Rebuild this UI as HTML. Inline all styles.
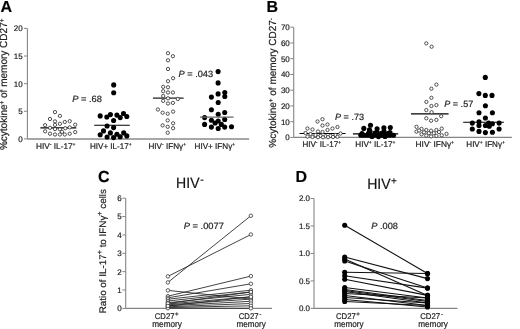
<!DOCTYPE html>
<html><head><meta charset="utf-8"><title>Figure</title>
<style>
html,body{margin:0;padding:0;background:#fff;}
body{width:520px;height:329px;overflow:hidden;}
svg{display:block;font-family:"Liberation Sans", sans-serif;text-rendering:geometricPrecision;will-change:transform;}
text{stroke:#222;stroke-width:0.2px;}
</style></head>
<body>
<svg width="520" height="329" viewBox="0 0 520 329">
<rect width="520" height="329" fill="#fff"/>
<text x="0.6" y="11.8" font-size="16" text-anchor="start" font-weight="bold" fill="#000"  style="">A</text>
<line x1="27.4" y1="28.4" x2="27.4" y2="138.9" stroke="#858585" stroke-width="1.1"/>
<line x1="24.0" y1="28.4" x2="27.4" y2="28.4" stroke="#858585" stroke-width="1"/>
<text x="22.7" y="31.28" font-size="8" text-anchor="end" font-weight="normal" fill="#222"  style="">20</text>
<line x1="24.0" y1="56.02" x2="27.4" y2="56.02" stroke="#858585" stroke-width="1"/>
<text x="22.7" y="58.91" font-size="8" text-anchor="end" font-weight="normal" fill="#222"  style="">15</text>
<line x1="24.0" y1="83.65" x2="27.4" y2="83.65" stroke="#858585" stroke-width="1"/>
<text x="22.7" y="86.53" font-size="8" text-anchor="end" font-weight="normal" fill="#222"  style="">10</text>
<line x1="24.0" y1="111.28" x2="27.4" y2="111.28" stroke="#858585" stroke-width="1"/>
<text x="22.7" y="114.16" font-size="8" text-anchor="end" font-weight="normal" fill="#222"  style="">5</text>
<line x1="24.0" y1="138.9" x2="27.4" y2="138.9" stroke="#858585" stroke-width="1"/>
<text x="22.7" y="141.78" font-size="8" text-anchor="end" font-weight="normal" fill="#222"  style="">0</text>
<line x1="27.4" y1="138.9" x2="249.1" y2="138.9" stroke="#8a8a8a" stroke-width="1.5"/>
<text transform="translate(7.4,84.35) rotate(-90)" x="0" y="0" font-size="10.4" text-anchor="middle" fill="#222" textLength="131.5" lengthAdjust="spacingAndGlyphs">%cytokine<tspan font-size="6.5" dy="-3.5">+</tspan><tspan dy="3.5"> of memory CD27</tspan><tspan font-size="6.5" dy="-3.5">+</tspan></text>
<line x1="40.4" y1="127.9" x2="76.3" y2="127.9" stroke="#000" stroke-width="1.1"/>
<circle cx="55" cy="112.1" r="1.65" fill="#fff" stroke="#333" stroke-width="0.85"/>
<circle cx="59.9" cy="115.9" r="1.65" fill="#fff" stroke="#333" stroke-width="0.85"/>
<circle cx="50" cy="119" r="1.65" fill="#fff" stroke="#333" stroke-width="0.85"/>
<circle cx="55" cy="121.4" r="1.65" fill="#fff" stroke="#333" stroke-width="0.85"/>
<circle cx="64.8" cy="122" r="1.65" fill="#fff" stroke="#333" stroke-width="0.85"/>
<circle cx="69.7" cy="121.2" r="1.65" fill="#fff" stroke="#333" stroke-width="0.85"/>
<circle cx="59.9" cy="123.8" r="1.65" fill="#fff" stroke="#333" stroke-width="0.85"/>
<circle cx="45.1" cy="125.2" r="1.65" fill="#fff" stroke="#333" stroke-width="0.85"/>
<circle cx="55" cy="124.9" r="1.65" fill="#fff" stroke="#333" stroke-width="0.85"/>
<circle cx="75.2" cy="124.7" r="1.65" fill="#fff" stroke="#333" stroke-width="0.85"/>
<circle cx="50" cy="127.8" r="1.65" fill="#fff" stroke="#333" stroke-width="0.85"/>
<circle cx="65.3" cy="128.2" r="1.65" fill="#fff" stroke="#333" stroke-width="0.85"/>
<circle cx="69.7" cy="127.4" r="1.65" fill="#fff" stroke="#333" stroke-width="0.85"/>
<circle cx="55" cy="129.1" r="1.65" fill="#fff" stroke="#333" stroke-width="0.85"/>
<circle cx="59.9" cy="129.3" r="1.65" fill="#fff" stroke="#333" stroke-width="0.85"/>
<circle cx="45.1" cy="131.3" r="1.65" fill="#fff" stroke="#333" stroke-width="0.85"/>
<circle cx="62" cy="131.8" r="1.65" fill="#fff" stroke="#333" stroke-width="0.85"/>
<circle cx="75.2" cy="132.1" r="1.65" fill="#fff" stroke="#333" stroke-width="0.85"/>
<circle cx="50" cy="133.7" r="1.65" fill="#fff" stroke="#333" stroke-width="0.85"/>
<circle cx="55" cy="134.5" r="1.65" fill="#fff" stroke="#333" stroke-width="0.85"/>
<circle cx="59.9" cy="134.5" r="1.65" fill="#fff" stroke="#333" stroke-width="0.85"/>
<circle cx="64.8" cy="134.5" r="1.65" fill="#fff" stroke="#333" stroke-width="0.85"/>
<circle cx="69.7" cy="133.7" r="1.65" fill="#fff" stroke="#333" stroke-width="0.85"/>
<circle cx="113.7" cy="84.9" r="2.55" fill="#000"/>
<circle cx="113.7" cy="92.8" r="2.55" fill="#000"/>
<circle cx="100.2" cy="115.9" r="2.55" fill="#000"/>
<circle cx="106.8" cy="117" r="2.55" fill="#000"/>
<circle cx="110.4" cy="114.6" r="2.55" fill="#000"/>
<circle cx="116.9" cy="115.1" r="2.55" fill="#000"/>
<circle cx="120.2" cy="117.6" r="2.55" fill="#000"/>
<circle cx="123.5" cy="113.5" r="2.55" fill="#000"/>
<circle cx="126.8" cy="116.5" r="2.55" fill="#000"/>
<circle cx="113.6" cy="120.5" r="2.55" fill="#000"/>
<circle cx="107.1" cy="126" r="2.55" fill="#000"/>
<circle cx="113.6" cy="127.6" r="2.55" fill="#000"/>
<circle cx="103.5" cy="130.9" r="2.55" fill="#000"/>
<circle cx="110.4" cy="132.9" r="2.55" fill="#000"/>
<circle cx="116.9" cy="134.3" r="2.55" fill="#000"/>
<circle cx="123.7" cy="132.9" r="2.55" fill="#000"/>
<circle cx="100.2" cy="134.8" r="2.55" fill="#000"/>
<circle cx="107.1" cy="137" r="2.55" fill="#000"/>
<circle cx="113.6" cy="137.6" r="2.55" fill="#000"/>
<circle cx="120.2" cy="136.7" r="2.55" fill="#000"/>
<circle cx="126.8" cy="135.9" r="2.55" fill="#000"/>
<line x1="94.2" y1="125.2" x2="129.8" y2="125.2" stroke="#000" stroke-width="1.1"/>
<line x1="153" y1="98.1" x2="183.6" y2="98.1" stroke="#000" stroke-width="1.1"/>
<circle cx="168" cy="53.2" r="1.65" fill="#fff" stroke="#333" stroke-width="0.85"/>
<circle cx="172.9" cy="56.2" r="1.65" fill="#fff" stroke="#333" stroke-width="0.85"/>
<circle cx="168" cy="60.3" r="1.65" fill="#fff" stroke="#333" stroke-width="0.85"/>
<circle cx="168" cy="69" r="1.65" fill="#fff" stroke="#333" stroke-width="0.85"/>
<circle cx="173.1" cy="78.2" r="1.65" fill="#fff" stroke="#333" stroke-width="0.85"/>
<circle cx="168" cy="81.2" r="1.65" fill="#fff" stroke="#333" stroke-width="0.85"/>
<circle cx="163.2" cy="86.8" r="1.65" fill="#fff" stroke="#333" stroke-width="0.85"/>
<circle cx="168" cy="87.3" r="1.65" fill="#fff" stroke="#333" stroke-width="0.85"/>
<circle cx="163.2" cy="91.2" r="1.65" fill="#fff" stroke="#333" stroke-width="0.85"/>
<circle cx="168" cy="92.5" r="1.65" fill="#fff" stroke="#333" stroke-width="0.85"/>
<circle cx="172.9" cy="92.5" r="1.65" fill="#fff" stroke="#333" stroke-width="0.85"/>
<circle cx="163.2" cy="96" r="1.65" fill="#fff" stroke="#333" stroke-width="0.85"/>
<circle cx="168" cy="98.3" r="1.65" fill="#fff" stroke="#333" stroke-width="0.85"/>
<circle cx="177.8" cy="99" r="1.65" fill="#fff" stroke="#333" stroke-width="0.85"/>
<circle cx="163.2" cy="100.9" r="1.65" fill="#fff" stroke="#333" stroke-width="0.85"/>
<circle cx="168" cy="103.5" r="1.65" fill="#fff" stroke="#333" stroke-width="0.85"/>
<circle cx="172.9" cy="102.9" r="1.65" fill="#fff" stroke="#333" stroke-width="0.85"/>
<circle cx="157.9" cy="109.5" r="1.65" fill="#fff" stroke="#333" stroke-width="0.85"/>
<circle cx="162.6" cy="112.7" r="1.65" fill="#fff" stroke="#333" stroke-width="0.85"/>
<circle cx="167.7" cy="113.7" r="1.65" fill="#fff" stroke="#333" stroke-width="0.85"/>
<circle cx="173.1" cy="111.6" r="1.65" fill="#fff" stroke="#333" stroke-width="0.85"/>
<circle cx="167.7" cy="120.4" r="1.65" fill="#fff" stroke="#333" stroke-width="0.85"/>
<circle cx="173.1" cy="123.3" r="1.65" fill="#fff" stroke="#333" stroke-width="0.85"/>
<circle cx="162.6" cy="125.4" r="1.65" fill="#fff" stroke="#333" stroke-width="0.85"/>
<circle cx="167.7" cy="126.8" r="1.65" fill="#fff" stroke="#333" stroke-width="0.85"/>
<circle cx="173.1" cy="128.2" r="1.65" fill="#fff" stroke="#333" stroke-width="0.85"/>
<circle cx="167.7" cy="132.7" r="1.65" fill="#fff" stroke="#333" stroke-width="0.85"/>
<circle cx="218.1" cy="71.6" r="2.55" fill="#000"/>
<circle cx="218.1" cy="82.9" r="2.55" fill="#000"/>
<circle cx="218.1" cy="93.9" r="2.55" fill="#000"/>
<circle cx="224.8" cy="92.6" r="2.55" fill="#000"/>
<circle cx="224.8" cy="96.5" r="2.55" fill="#000"/>
<circle cx="211.4" cy="97.1" r="2.55" fill="#000"/>
<circle cx="218.2" cy="102.5" r="2.55" fill="#000"/>
<circle cx="211.4" cy="109.8" r="2.55" fill="#000"/>
<circle cx="218.2" cy="114.2" r="2.55" fill="#000"/>
<circle cx="224.7" cy="112.5" r="2.55" fill="#000"/>
<circle cx="204.6" cy="117.6" r="2.55" fill="#000"/>
<circle cx="211.4" cy="120.3" r="2.55" fill="#000"/>
<circle cx="218.2" cy="121" r="2.55" fill="#000"/>
<circle cx="224.7" cy="119.4" r="2.55" fill="#000"/>
<circle cx="215.1" cy="123" r="2.55" fill="#000"/>
<circle cx="204.6" cy="124.4" r="2.55" fill="#000"/>
<circle cx="211.4" cy="127.1" r="2.55" fill="#000"/>
<circle cx="218.2" cy="128.5" r="2.55" fill="#000"/>
<circle cx="224.7" cy="127.1" r="2.55" fill="#000"/>
<circle cx="231.5" cy="126.7" r="2.55" fill="#000"/>
<circle cx="221.3" cy="124.4" r="2.55" fill="#000"/>
<line x1="200" y1="117.1" x2="233.6" y2="117.1" stroke="#666" stroke-width="1.4"/>
<text x="36" y="148.8" font-size="8.2" fill="#222" textLength="39.6" lengthAdjust="spacingAndGlyphs">HIV<tspan font-size="5.08" dy="-2.8">-</tspan><tspan dy="2.8"> IL-17</tspan><tspan font-size="5.08" dy="-2.8">+</tspan></text>
<text x="90" y="148.8" font-size="8.2" fill="#222" textLength="41.6" lengthAdjust="spacingAndGlyphs">HIV+ IL-17<tspan font-size="5.08" dy="-2.8"></tspan><tspan dy="2.8"></tspan><tspan font-size="5.08" dy="-2.8">+</tspan></text>
<text x="148.5" y="148.9" font-size="8.2" fill="#222" textLength="37.6" lengthAdjust="spacingAndGlyphs">HIV<tspan font-size="5.08" dy="-2.8">-</tspan><tspan dy="2.8"> IFN&#947;</tspan><tspan font-size="5.08" dy="-2.8">+</tspan></text>
<text x="194.6" y="148.9" font-size="8.2" fill="#222" textLength="40.6" lengthAdjust="spacingAndGlyphs">HIV+ IFN&#947;<tspan font-size="5.08" dy="-2.8"></tspan><tspan dy="2.8"></tspan><tspan font-size="5.08" dy="-2.8">+</tspan></text>
<text x="72.2" y="101.9" font-size="9" fill="#222" textLength="29.8" lengthAdjust="spacingAndGlyphs"><tspan font-style="italic">P</tspan> = .68</text>
<text x="178.5" y="76.9" font-size="9" fill="#222" textLength="34.6" lengthAdjust="spacingAndGlyphs"><tspan font-style="italic">P</tspan> = .043</text>
<text x="266.5" y="11.8" font-size="16" text-anchor="start" font-weight="bold" fill="#000"  style="">B</text>
<line x1="293.7" y1="27.2" x2="293.7" y2="137.45" stroke="#858585" stroke-width="1.1"/>
<line x1="290.3" y1="27.2" x2="293.7" y2="27.2" stroke="#858585" stroke-width="1"/>
<text x="289.8" y="30.08" font-size="8" text-anchor="end" font-weight="normal" fill="#222"  style="">70</text>
<line x1="290.3" y1="42.95" x2="293.7" y2="42.95" stroke="#858585" stroke-width="1"/>
<text x="289.8" y="45.83" font-size="8" text-anchor="end" font-weight="normal" fill="#222"  style="">60</text>
<line x1="290.3" y1="58.7" x2="293.7" y2="58.7" stroke="#858585" stroke-width="1"/>
<text x="289.8" y="61.58" font-size="8" text-anchor="end" font-weight="normal" fill="#222"  style="">50</text>
<line x1="290.3" y1="74.45" x2="293.7" y2="74.45" stroke="#858585" stroke-width="1"/>
<text x="289.8" y="77.33" font-size="8" text-anchor="end" font-weight="normal" fill="#222"  style="">40</text>
<line x1="290.3" y1="90.2" x2="293.7" y2="90.2" stroke="#858585" stroke-width="1"/>
<text x="289.8" y="93.08" font-size="8" text-anchor="end" font-weight="normal" fill="#222"  style="">30</text>
<line x1="290.3" y1="105.95" x2="293.7" y2="105.95" stroke="#858585" stroke-width="1"/>
<text x="289.8" y="108.83" font-size="8" text-anchor="end" font-weight="normal" fill="#222"  style="">20</text>
<line x1="290.3" y1="121.7" x2="293.7" y2="121.7" stroke="#858585" stroke-width="1"/>
<text x="289.8" y="124.58" font-size="8" text-anchor="end" font-weight="normal" fill="#222"  style="">10</text>
<line x1="290.3" y1="137.45" x2="293.7" y2="137.45" stroke="#858585" stroke-width="1"/>
<text x="289.8" y="140.33" font-size="8" text-anchor="end" font-weight="normal" fill="#222"  style="">0</text>
<line x1="293.7" y1="137.45" x2="511.9" y2="137.45" stroke="#858585" stroke-width="1.3"/>
<text transform="translate(276.0,82.9) rotate(-90)" x="0" y="0" font-size="10.2" text-anchor="middle" fill="#222" textLength="129.5" lengthAdjust="spacingAndGlyphs">%cytokine<tspan font-size="6.5" dy="-3.5">+</tspan><tspan dy="3.5"> of memory CD27</tspan><tspan font-size="6.5" dy="-3.5">-</tspan></text>
<line x1="299.5" y1="133.5" x2="345.5" y2="133.5" stroke="#000" stroke-width="1.1"/>
<circle cx="317.5" cy="121.5" r="1.65" fill="#fff" stroke="#333" stroke-width="0.85"/>
<circle cx="322.5" cy="119.2" r="1.65" fill="#fff" stroke="#333" stroke-width="0.85"/>
<circle cx="322.5" cy="125.5" r="1.65" fill="#fff" stroke="#333" stroke-width="0.85"/>
<circle cx="327.5" cy="124.5" r="1.65" fill="#fff" stroke="#333" stroke-width="0.85"/>
<circle cx="307.5" cy="128.5" r="1.65" fill="#fff" stroke="#333" stroke-width="0.85"/>
<circle cx="312.5" cy="129.5" r="1.65" fill="#fff" stroke="#333" stroke-width="0.85"/>
<circle cx="332.5" cy="128.5" r="1.65" fill="#fff" stroke="#333" stroke-width="0.85"/>
<circle cx="337.5" cy="127" r="1.65" fill="#fff" stroke="#333" stroke-width="0.85"/>
<circle cx="327.5" cy="130" r="1.65" fill="#fff" stroke="#333" stroke-width="0.85"/>
<circle cx="318" cy="131.5" r="1.65" fill="#fff" stroke="#333" stroke-width="0.85"/>
<circle cx="322.5" cy="132" r="1.65" fill="#fff" stroke="#333" stroke-width="0.85"/>
<circle cx="305.5" cy="133" r="1.65" fill="#fff" stroke="#333" stroke-width="0.85"/>
<circle cx="310.5" cy="134" r="1.65" fill="#fff" stroke="#333" stroke-width="0.85"/>
<circle cx="315.5" cy="135" r="1.65" fill="#fff" stroke="#333" stroke-width="0.85"/>
<circle cx="320.5" cy="135.8" r="1.65" fill="#fff" stroke="#333" stroke-width="0.85"/>
<circle cx="325.5" cy="136.2" r="1.65" fill="#fff" stroke="#333" stroke-width="0.85"/>
<circle cx="330.5" cy="135.8" r="1.65" fill="#fff" stroke="#333" stroke-width="0.85"/>
<circle cx="335.5" cy="135" r="1.65" fill="#fff" stroke="#333" stroke-width="0.85"/>
<circle cx="340.5" cy="133.5" r="1.65" fill="#fff" stroke="#333" stroke-width="0.85"/>
<circle cx="307.5" cy="136.6" r="1.65" fill="#fff" stroke="#333" stroke-width="0.85"/>
<circle cx="312.5" cy="137" r="1.65" fill="#fff" stroke="#333" stroke-width="0.85"/>
<circle cx="318" cy="137.2" r="1.65" fill="#fff" stroke="#333" stroke-width="0.85"/>
<circle cx="323" cy="137.3" r="1.65" fill="#fff" stroke="#333" stroke-width="0.85"/>
<circle cx="328" cy="137.2" r="1.65" fill="#fff" stroke="#333" stroke-width="0.85"/>
<circle cx="333" cy="137" r="1.65" fill="#fff" stroke="#333" stroke-width="0.85"/>
<circle cx="337.5" cy="136.8" r="1.65" fill="#fff" stroke="#333" stroke-width="0.85"/>
<line x1="352.9" y1="133.9" x2="398.2" y2="133.9" stroke="#000" stroke-width="1.1"/>
<circle cx="363.8" cy="128.4" r="2.55" fill="#000"/>
<circle cx="370.5" cy="125.3" r="2.55" fill="#000"/>
<circle cx="369.4" cy="129.8" r="2.55" fill="#000"/>
<circle cx="377.1" cy="128.7" r="2.55" fill="#000"/>
<circle cx="383.9" cy="127.9" r="2.55" fill="#000"/>
<circle cx="390.3" cy="127.5" r="2.55" fill="#000"/>
<circle cx="360.8" cy="135.2" r="2.55" fill="#000"/>
<circle cx="364" cy="135.2" r="2.55" fill="#000"/>
<circle cx="367.2" cy="135.2" r="2.55" fill="#000"/>
<circle cx="370.5" cy="135.2" r="2.55" fill="#000"/>
<circle cx="373.7" cy="135.2" r="2.55" fill="#000"/>
<circle cx="377" cy="135.2" r="2.55" fill="#000"/>
<circle cx="380.2" cy="135.2" r="2.55" fill="#000"/>
<circle cx="383.4" cy="135.2" r="2.55" fill="#000"/>
<circle cx="386.6" cy="135.2" r="2.55" fill="#000"/>
<circle cx="389.9" cy="135.2" r="2.55" fill="#000"/>
<circle cx="393.5" cy="135.2" r="2.55" fill="#000"/>
<circle cx="362" cy="133.5" r="2.55" fill="#000"/>
<circle cx="368.5" cy="133.2" r="2.55" fill="#000"/>
<circle cx="375" cy="133" r="2.55" fill="#000"/>
<circle cx="381.5" cy="133.3" r="2.55" fill="#000"/>
<circle cx="388" cy="133.5" r="2.55" fill="#000"/>
<circle cx="372" cy="136.5" r="2.55" fill="#000"/>
<circle cx="378.5" cy="136.6" r="2.55" fill="#000"/>
<circle cx="385" cy="136.4" r="2.55" fill="#000"/>
<circle cx="370" cy="131.2" r="2.55" fill="#000"/>
<circle cx="377" cy="132.2" r="2.55" fill="#000"/>
<circle cx="384" cy="131.5" r="2.55" fill="#000"/>
<circle cx="390" cy="132.5" r="2.55" fill="#000"/>
<line x1="411" y1="113.9" x2="448.6" y2="113.9" stroke="#000" stroke-width="1.1"/>
<circle cx="426.3" cy="43.4" r="1.65" fill="#fff" stroke="#333" stroke-width="0.85"/>
<circle cx="431.6" cy="46.7" r="1.65" fill="#fff" stroke="#333" stroke-width="0.85"/>
<circle cx="436.4" cy="84.6" r="1.65" fill="#fff" stroke="#333" stroke-width="0.85"/>
<circle cx="431.4" cy="88.7" r="1.65" fill="#fff" stroke="#333" stroke-width="0.85"/>
<circle cx="431.4" cy="97.8" r="1.65" fill="#fff" stroke="#333" stroke-width="0.85"/>
<circle cx="426.4" cy="101.9" r="1.65" fill="#fff" stroke="#333" stroke-width="0.85"/>
<circle cx="431.4" cy="106" r="1.65" fill="#fff" stroke="#333" stroke-width="0.85"/>
<circle cx="436.4" cy="105.1" r="1.65" fill="#fff" stroke="#333" stroke-width="0.85"/>
<circle cx="426.3" cy="110.1" r="1.65" fill="#fff" stroke="#333" stroke-width="0.85"/>
<circle cx="431.6" cy="112.2" r="1.65" fill="#fff" stroke="#333" stroke-width="0.85"/>
<circle cx="441.2" cy="116.2" r="1.65" fill="#fff" stroke="#333" stroke-width="0.85"/>
<circle cx="426.3" cy="118.3" r="1.65" fill="#fff" stroke="#333" stroke-width="0.85"/>
<circle cx="431.1" cy="120.7" r="1.65" fill="#fff" stroke="#333" stroke-width="0.85"/>
<circle cx="436.4" cy="119.9" r="1.65" fill="#fff" stroke="#333" stroke-width="0.85"/>
<circle cx="416.5" cy="126.8" r="1.65" fill="#fff" stroke="#333" stroke-width="0.85"/>
<circle cx="421.5" cy="128.9" r="1.65" fill="#fff" stroke="#333" stroke-width="0.85"/>
<circle cx="426.3" cy="130" r="1.65" fill="#fff" stroke="#333" stroke-width="0.85"/>
<circle cx="431.1" cy="130.7" r="1.65" fill="#fff" stroke="#333" stroke-width="0.85"/>
<circle cx="436.4" cy="130" r="1.65" fill="#fff" stroke="#333" stroke-width="0.85"/>
<circle cx="441.7" cy="128.6" r="1.65" fill="#fff" stroke="#333" stroke-width="0.85"/>
<circle cx="416.5" cy="131.6" r="1.65" fill="#fff" stroke="#333" stroke-width="0.85"/>
<circle cx="421.5" cy="134.3" r="1.65" fill="#fff" stroke="#333" stroke-width="0.85"/>
<circle cx="426.3" cy="135.6" r="1.65" fill="#fff" stroke="#333" stroke-width="0.85"/>
<circle cx="431.1" cy="136.4" r="1.65" fill="#fff" stroke="#333" stroke-width="0.85"/>
<circle cx="436.4" cy="135.9" r="1.65" fill="#fff" stroke="#333" stroke-width="0.85"/>
<circle cx="441.7" cy="135.3" r="1.65" fill="#fff" stroke="#333" stroke-width="0.85"/>
<circle cx="446.5" cy="133.9" r="1.65" fill="#fff" stroke="#333" stroke-width="0.85"/>
<circle cx="419" cy="130.5" r="1.65" fill="#fff" stroke="#333" stroke-width="0.85"/>
<circle cx="424" cy="132.3" r="1.65" fill="#fff" stroke="#333" stroke-width="0.85"/>
<circle cx="428.8" cy="133.2" r="1.65" fill="#fff" stroke="#333" stroke-width="0.85"/>
<circle cx="433.8" cy="133.2" r="1.65" fill="#fff" stroke="#333" stroke-width="0.85"/>
<circle cx="439" cy="132" r="1.65" fill="#fff" stroke="#333" stroke-width="0.85"/>
<circle cx="485.3" cy="77.4" r="2.55" fill="#000"/>
<circle cx="478.9" cy="93.6" r="2.55" fill="#000"/>
<circle cx="485.3" cy="95.4" r="2.55" fill="#000"/>
<circle cx="492" cy="95.4" r="2.55" fill="#000"/>
<circle cx="485.4" cy="105.8" r="2.55" fill="#000"/>
<circle cx="479" cy="112.8" r="2.55" fill="#000"/>
<circle cx="492.4" cy="112.8" r="2.55" fill="#000"/>
<circle cx="485.4" cy="118" r="2.55" fill="#000"/>
<circle cx="472.3" cy="123.1" r="2.55" fill="#000"/>
<circle cx="479" cy="121.9" r="2.55" fill="#000"/>
<circle cx="479" cy="125.5" r="2.55" fill="#000"/>
<circle cx="485.4" cy="125.5" r="2.55" fill="#000"/>
<circle cx="488.7" cy="123.1" r="2.55" fill="#000"/>
<circle cx="489.3" cy="126.2" r="2.55" fill="#000"/>
<circle cx="492.4" cy="123.7" r="2.55" fill="#000"/>
<circle cx="499.1" cy="123.1" r="2.55" fill="#000"/>
<circle cx="472.3" cy="129" r="2.55" fill="#000"/>
<circle cx="479" cy="131.4" r="2.55" fill="#000"/>
<circle cx="485.4" cy="132.6" r="2.55" fill="#000"/>
<circle cx="492.4" cy="132.2" r="2.55" fill="#000"/>
<circle cx="499.1" cy="129" r="2.55" fill="#000"/>
<line x1="463.2" y1="122.3" x2="503.9" y2="122.3" stroke="#000" stroke-width="1.1"/>
<text x="302.4" y="147.2" font-size="8.2" fill="#222" textLength="38.7" lengthAdjust="spacingAndGlyphs">HIV<tspan font-size="5.08" dy="-2.8">-</tspan><tspan dy="2.8"> IL-17</tspan><tspan font-size="5.08" dy="-2.8">+</tspan></text>
<text x="355.3" y="147.2" font-size="8.2" fill="#222" textLength="40.2" lengthAdjust="spacingAndGlyphs">HIV<tspan font-size="5.08" dy="-2.8">+</tspan><tspan dy="2.8"> IL-17</tspan><tspan font-size="5.08" dy="-2.8">+</tspan></text>
<text x="415.6" y="147.2" font-size="8.2" fill="#222" textLength="38.5" lengthAdjust="spacingAndGlyphs">HIV<tspan font-size="5.08" dy="-2.8">-</tspan><tspan dy="2.8"> IFN&#947;</tspan><tspan font-size="5.08" dy="-2.8">+</tspan></text>
<text x="466.3" y="147.2" font-size="8.2" fill="#222" textLength="38.6" lengthAdjust="spacingAndGlyphs">HIV<tspan font-size="5.08" dy="-2.8">+</tspan><tspan dy="2.8"> IFN&#947;</tspan><tspan font-size="5.08" dy="-2.8">+</tspan></text>
<text x="335" y="119.6" font-size="9" fill="#222" textLength="29.1" lengthAdjust="spacingAndGlyphs"><tspan font-style="italic">P</tspan> = .73</text>
<text x="444.3" y="106.7" font-size="9" fill="#222" textLength="28.9" lengthAdjust="spacingAndGlyphs"><tspan font-style="italic">P</tspan> = .57</text>
<text x="97.9" y="181.8" font-size="16" text-anchor="start" font-weight="bold" fill="#000"  style="">C</text>
<line x1="125.7" y1="198.2" x2="125.7" y2="308.4" stroke="#858585" stroke-width="1.1"/>
<line x1="122.3" y1="198.2" x2="125.7" y2="198.2" stroke="#858585" stroke-width="1"/>
<text x="121.6" y="201.08" font-size="8" text-anchor="end" font-weight="normal" fill="#222"  style="">6</text>
<line x1="122.3" y1="216.57" x2="125.7" y2="216.57" stroke="#858585" stroke-width="1"/>
<text x="121.6" y="219.45" font-size="8" text-anchor="end" font-weight="normal" fill="#222"  style="">5</text>
<line x1="122.3" y1="234.93" x2="125.7" y2="234.93" stroke="#858585" stroke-width="1"/>
<text x="121.6" y="237.81" font-size="8" text-anchor="end" font-weight="normal" fill="#222"  style="">4</text>
<line x1="122.3" y1="253.3" x2="125.7" y2="253.3" stroke="#858585" stroke-width="1"/>
<text x="121.6" y="256.18" font-size="8" text-anchor="end" font-weight="normal" fill="#222"  style="">3</text>
<line x1="122.3" y1="271.67" x2="125.7" y2="271.67" stroke="#858585" stroke-width="1"/>
<text x="121.6" y="274.55" font-size="8" text-anchor="end" font-weight="normal" fill="#222"  style="">2</text>
<line x1="122.3" y1="290.03" x2="125.7" y2="290.03" stroke="#858585" stroke-width="1"/>
<text x="121.6" y="292.91" font-size="8" text-anchor="end" font-weight="normal" fill="#222"  style="">1</text>
<line x1="122.3" y1="308.4" x2="125.7" y2="308.4" stroke="#858585" stroke-width="1"/>
<text x="121.6" y="311.28" font-size="8" text-anchor="end" font-weight="normal" fill="#222"  style="">0</text>
<line x1="125.7" y1="308.4" x2="272" y2="308.4" stroke="#858585" stroke-width="1.3"/>
<text transform="translate(105.8,251.2) rotate(-90)" x="0" y="0" font-size="9.6" text-anchor="middle" fill="#222" textLength="124.3" lengthAdjust="spacingAndGlyphs">Ratio of IL-17<tspan font-size="7" dy="-3.4">+</tspan><tspan dy="3.4"> to IFN&#947;</tspan><tspan font-size="7" dy="-3.4">+</tspan><tspan dy="3.4"> cells</tspan></text>
<text x="176.1" y="188.3" font-size="14.8" fill="#111" textLength="23.4" lengthAdjust="spacingAndGlyphs">HIV</text>
<text x="200.2" y="182.6" font-size="10.5" fill="#111">-</text>
<text x="183.8" y="228.5" font-size="9" fill="#222" textLength="40" lengthAdjust="spacingAndGlyphs"><tspan font-style="italic">P</tspan> = .0077</text>
<line x1="167.9" y1="276.4" x2="250.9" y2="234.5" stroke="#222" stroke-width="0.85"/>
<line x1="167.9" y1="282.4" x2="250.9" y2="215.75" stroke="#222" stroke-width="0.85"/>
<line x1="167.9" y1="290.4" x2="250.9" y2="299.1" stroke="#222" stroke-width="0.85"/>
<line x1="167.9" y1="296.2" x2="250.9" y2="276.1" stroke="#222" stroke-width="0.85"/>
<line x1="167.9" y1="297.8" x2="250.9" y2="283.8" stroke="#222" stroke-width="0.85"/>
<line x1="167.9" y1="299.2" x2="250.9" y2="290.2" stroke="#222" stroke-width="0.85"/>
<line x1="167.9" y1="301" x2="250.9" y2="292" stroke="#222" stroke-width="0.85"/>
<line x1="167.9" y1="302.7" x2="250.9" y2="294.3" stroke="#222" stroke-width="0.85"/>
<line x1="167.9" y1="304" x2="250.9" y2="296.8" stroke="#222" stroke-width="0.85"/>
<line x1="167.9" y1="304.8" x2="250.9" y2="299.1" stroke="#222" stroke-width="0.85"/>
<line x1="167.9" y1="305.8" x2="250.9" y2="301.3" stroke="#222" stroke-width="0.85"/>
<line x1="167.9" y1="306.8" x2="250.9" y2="303.5" stroke="#222" stroke-width="0.85"/>
<line x1="167.9" y1="307.5" x2="250.9" y2="305.8" stroke="#222" stroke-width="0.85"/>
<line x1="167.9" y1="308.2" x2="250.9" y2="308.3" stroke="#222" stroke-width="0.85"/>
<line x1="167.9" y1="303.5" x2="250.9" y2="292" stroke="#222" stroke-width="0.85"/>
<line x1="167.9" y1="306" x2="250.9" y2="296.8" stroke="#222" stroke-width="0.85"/>
<circle cx="167.9" cy="276.4" r="1.75" fill="#fff" stroke="#333" stroke-width="0.8"/>
<circle cx="250.9" cy="234.5" r="1.75" fill="#fff" stroke="#333" stroke-width="0.8"/>
<circle cx="167.9" cy="282.4" r="1.75" fill="#fff" stroke="#333" stroke-width="0.8"/>
<circle cx="250.9" cy="215.75" r="1.75" fill="#fff" stroke="#333" stroke-width="0.8"/>
<circle cx="167.9" cy="290.4" r="1.75" fill="#fff" stroke="#333" stroke-width="0.8"/>
<circle cx="250.9" cy="299.1" r="1.75" fill="#fff" stroke="#333" stroke-width="0.8"/>
<circle cx="167.9" cy="296.2" r="1.75" fill="#fff" stroke="#333" stroke-width="0.8"/>
<circle cx="250.9" cy="276.1" r="1.75" fill="#fff" stroke="#333" stroke-width="0.8"/>
<circle cx="167.9" cy="297.8" r="1.75" fill="#fff" stroke="#333" stroke-width="0.8"/>
<circle cx="250.9" cy="283.8" r="1.75" fill="#fff" stroke="#333" stroke-width="0.8"/>
<circle cx="167.9" cy="299.2" r="1.75" fill="#fff" stroke="#333" stroke-width="0.8"/>
<circle cx="250.9" cy="290.2" r="1.75" fill="#fff" stroke="#333" stroke-width="0.8"/>
<circle cx="167.9" cy="301" r="1.75" fill="#fff" stroke="#333" stroke-width="0.8"/>
<circle cx="250.9" cy="292" r="1.75" fill="#fff" stroke="#333" stroke-width="0.8"/>
<circle cx="167.9" cy="302.7" r="1.75" fill="#fff" stroke="#333" stroke-width="0.8"/>
<circle cx="250.9" cy="294.3" r="1.75" fill="#fff" stroke="#333" stroke-width="0.8"/>
<circle cx="167.9" cy="304" r="1.75" fill="#fff" stroke="#333" stroke-width="0.8"/>
<circle cx="250.9" cy="296.8" r="1.75" fill="#fff" stroke="#333" stroke-width="0.8"/>
<circle cx="167.9" cy="304.8" r="1.75" fill="#fff" stroke="#333" stroke-width="0.8"/>
<circle cx="250.9" cy="299.1" r="1.75" fill="#fff" stroke="#333" stroke-width="0.8"/>
<circle cx="167.9" cy="305.8" r="1.75" fill="#fff" stroke="#333" stroke-width="0.8"/>
<circle cx="250.9" cy="301.3" r="1.75" fill="#fff" stroke="#333" stroke-width="0.8"/>
<circle cx="167.9" cy="306.8" r="1.75" fill="#fff" stroke="#333" stroke-width="0.8"/>
<circle cx="250.9" cy="303.5" r="1.75" fill="#fff" stroke="#333" stroke-width="0.8"/>
<circle cx="167.9" cy="307.5" r="1.75" fill="#fff" stroke="#333" stroke-width="0.8"/>
<circle cx="250.9" cy="305.8" r="1.75" fill="#fff" stroke="#333" stroke-width="0.8"/>
<circle cx="167.9" cy="308.2" r="1.75" fill="#fff" stroke="#333" stroke-width="0.8"/>
<circle cx="250.9" cy="308.3" r="1.75" fill="#fff" stroke="#333" stroke-width="0.8"/>
<circle cx="167.9" cy="303.5" r="1.75" fill="#fff" stroke="#333" stroke-width="0.8"/>
<circle cx="250.9" cy="292" r="1.75" fill="#fff" stroke="#333" stroke-width="0.8"/>
<circle cx="167.9" cy="306" r="1.75" fill="#fff" stroke="#333" stroke-width="0.8"/>
<circle cx="250.9" cy="296.8" r="1.75" fill="#fff" stroke="#333" stroke-width="0.8"/>
<text x="154.8" y="318.8" font-size="8.3" text-anchor="start" font-weight="normal" fill="#222" textLength="19.7" lengthAdjust="spacingAndGlyphs" style="">CD27</text>
<text x="175.0" y="316.2" font-size="6.2" text-anchor="start" font-weight="normal" fill="#222"  style="">+</text>
<text x="152.3" y="326.7" font-size="8.9" text-anchor="start" font-weight="normal" fill="#222" textLength="29.6" lengthAdjust="spacingAndGlyphs" style="">memory</text>
<text x="238.8" y="318.8" font-size="8.3" text-anchor="start" font-weight="normal" fill="#222" textLength="19.7" lengthAdjust="spacingAndGlyphs" style="">CD27</text>
<text x="259.2" y="315.8" font-size="6.5" text-anchor="start" font-weight="normal" fill="#222"  style="">-</text>
<text x="236.6" y="326.7" font-size="8.9" text-anchor="start" font-weight="normal" fill="#222" textLength="29.2" lengthAdjust="spacingAndGlyphs" style="">memory</text>
<text x="295.5" y="181.8" font-size="16" text-anchor="start" font-weight="bold" fill="#000"  style="">D</text>
<line x1="314.0" y1="198.5" x2="314.0" y2="308.4" stroke="#858585" stroke-width="1.1"/>
<line x1="310.6" y1="198.5" x2="314.0" y2="198.5" stroke="#858585" stroke-width="1"/>
<text x="310.0" y="201.38" font-size="8" text-anchor="end" font-weight="normal" fill="#222"  style="">2.0</text>
<line x1="310.6" y1="225.97" x2="314.0" y2="225.97" stroke="#858585" stroke-width="1"/>
<text x="310.0" y="228.85" font-size="8" text-anchor="end" font-weight="normal" fill="#222"  style="">1.5</text>
<line x1="310.6" y1="253.45" x2="314.0" y2="253.45" stroke="#858585" stroke-width="1"/>
<text x="310.0" y="256.33" font-size="8" text-anchor="end" font-weight="normal" fill="#222"  style="">1.0</text>
<line x1="310.6" y1="280.92" x2="314.0" y2="280.92" stroke="#858585" stroke-width="1"/>
<text x="310.0" y="283.8" font-size="8" text-anchor="end" font-weight="normal" fill="#222"  style="">0.5</text>
<line x1="310.6" y1="308.4" x2="314.0" y2="308.4" stroke="#858585" stroke-width="1"/>
<text x="310.0" y="311.28" font-size="8" text-anchor="end" font-weight="normal" fill="#222"  style="">0.0</text>
<line x1="314.0" y1="308.4" x2="457.4" y2="308.4" stroke="#858585" stroke-width="1.3"/>
<text x="367.2" y="188.5" font-size="14.8" fill="#111" textLength="23.5" lengthAdjust="spacingAndGlyphs">HIV</text>
<text x="390.9" y="184.2" font-size="10" fill="#111">+</text>
<text x="371.3" y="229" font-size="9" fill="#222" textLength="26.7" lengthAdjust="spacingAndGlyphs"><tspan font-style="italic">P</tspan> .008</text>
<line x1="344.7" y1="225.2" x2="427.5" y2="273.5" stroke="#111" stroke-width="1.1"/>
<line x1="344.7" y1="257" x2="427.5" y2="278.6" stroke="#111" stroke-width="1.1"/>
<line x1="344.7" y1="259" x2="427.5" y2="295.4" stroke="#111" stroke-width="1.1"/>
<line x1="344.7" y1="261" x2="427.5" y2="288.1" stroke="#111" stroke-width="1.1"/>
<line x1="344.7" y1="272.3" x2="427.5" y2="273.5" stroke="#111" stroke-width="1.1"/>
<line x1="344.7" y1="275.8" x2="427.5" y2="288.1" stroke="#111" stroke-width="1.1"/>
<line x1="344.7" y1="279.3" x2="427.5" y2="295.4" stroke="#111" stroke-width="1.1"/>
<line x1="344.7" y1="287.5" x2="427.5" y2="298" stroke="#111" stroke-width="1.1"/>
<line x1="344.7" y1="289.5" x2="427.5" y2="300.5" stroke="#111" stroke-width="1.1"/>
<line x1="344.7" y1="291.5" x2="427.5" y2="303" stroke="#111" stroke-width="1.1"/>
<line x1="344.7" y1="293.5" x2="427.5" y2="298" stroke="#111" stroke-width="1.1"/>
<line x1="344.7" y1="295.5" x2="427.5" y2="305.5" stroke="#111" stroke-width="1.1"/>
<line x1="344.7" y1="297.5" x2="427.5" y2="303" stroke="#111" stroke-width="1.1"/>
<line x1="344.7" y1="299.5" x2="427.5" y2="307" stroke="#111" stroke-width="1.1"/>
<line x1="344.7" y1="301.5" x2="427.5" y2="305.5" stroke="#111" stroke-width="1.1"/>
<line x1="344.7" y1="290.5" x2="427.5" y2="301.5" stroke="#111" stroke-width="1.1"/>
<circle cx="344.7" cy="225.2" r="2.55" fill="#000"/>
<circle cx="427.5" cy="273.5" r="2.55" fill="#000"/>
<circle cx="344.7" cy="257" r="2.55" fill="#000"/>
<circle cx="427.5" cy="278.6" r="2.55" fill="#000"/>
<circle cx="344.7" cy="259" r="2.55" fill="#000"/>
<circle cx="427.5" cy="295.4" r="2.55" fill="#000"/>
<circle cx="344.7" cy="261" r="2.55" fill="#000"/>
<circle cx="427.5" cy="288.1" r="2.55" fill="#000"/>
<circle cx="344.7" cy="272.3" r="2.55" fill="#000"/>
<circle cx="427.5" cy="273.5" r="2.55" fill="#000"/>
<circle cx="344.7" cy="275.8" r="2.55" fill="#000"/>
<circle cx="427.5" cy="288.1" r="2.55" fill="#000"/>
<circle cx="344.7" cy="279.3" r="2.55" fill="#000"/>
<circle cx="427.5" cy="295.4" r="2.55" fill="#000"/>
<circle cx="344.7" cy="287.5" r="2.55" fill="#000"/>
<circle cx="427.5" cy="298" r="2.55" fill="#000"/>
<circle cx="344.7" cy="289.5" r="2.55" fill="#000"/>
<circle cx="427.5" cy="300.5" r="2.55" fill="#000"/>
<circle cx="344.7" cy="291.5" r="2.55" fill="#000"/>
<circle cx="427.5" cy="303" r="2.55" fill="#000"/>
<circle cx="344.7" cy="293.5" r="2.55" fill="#000"/>
<circle cx="427.5" cy="298" r="2.55" fill="#000"/>
<circle cx="344.7" cy="295.5" r="2.55" fill="#000"/>
<circle cx="427.5" cy="305.5" r="2.55" fill="#000"/>
<circle cx="344.7" cy="297.5" r="2.55" fill="#000"/>
<circle cx="427.5" cy="303" r="2.55" fill="#000"/>
<circle cx="344.7" cy="299.5" r="2.55" fill="#000"/>
<circle cx="427.5" cy="307" r="2.55" fill="#000"/>
<circle cx="344.7" cy="301.5" r="2.55" fill="#000"/>
<circle cx="427.5" cy="305.5" r="2.55" fill="#000"/>
<circle cx="344.7" cy="290.5" r="2.55" fill="#000"/>
<circle cx="427.5" cy="301.5" r="2.55" fill="#000"/>
<text x="336.0" y="318.5" font-size="8.3" text-anchor="start" font-weight="normal" fill="#222" textLength="19.8" lengthAdjust="spacingAndGlyphs" style="">CD27</text>
<text x="356.3" y="315.9" font-size="6.2" text-anchor="start" font-weight="normal" fill="#222"  style="">+</text>
<text x="334.2" y="326.5" font-size="8.9" text-anchor="start" font-weight="normal" fill="#222" textLength="29.3" lengthAdjust="spacingAndGlyphs" style="">memory</text>
<text x="420.2" y="318.5" font-size="8.3" text-anchor="start" font-weight="normal" fill="#222" textLength="20.0" lengthAdjust="spacingAndGlyphs" style="">CD27</text>
<text x="440.9" y="315.5" font-size="6.5" text-anchor="start" font-weight="normal" fill="#222"  style="">-</text>
<text x="418.2" y="326.5" font-size="8.9" text-anchor="start" font-weight="normal" fill="#222" textLength="29.6" lengthAdjust="spacingAndGlyphs" style="">memory</text>
</svg>
</body></html>
